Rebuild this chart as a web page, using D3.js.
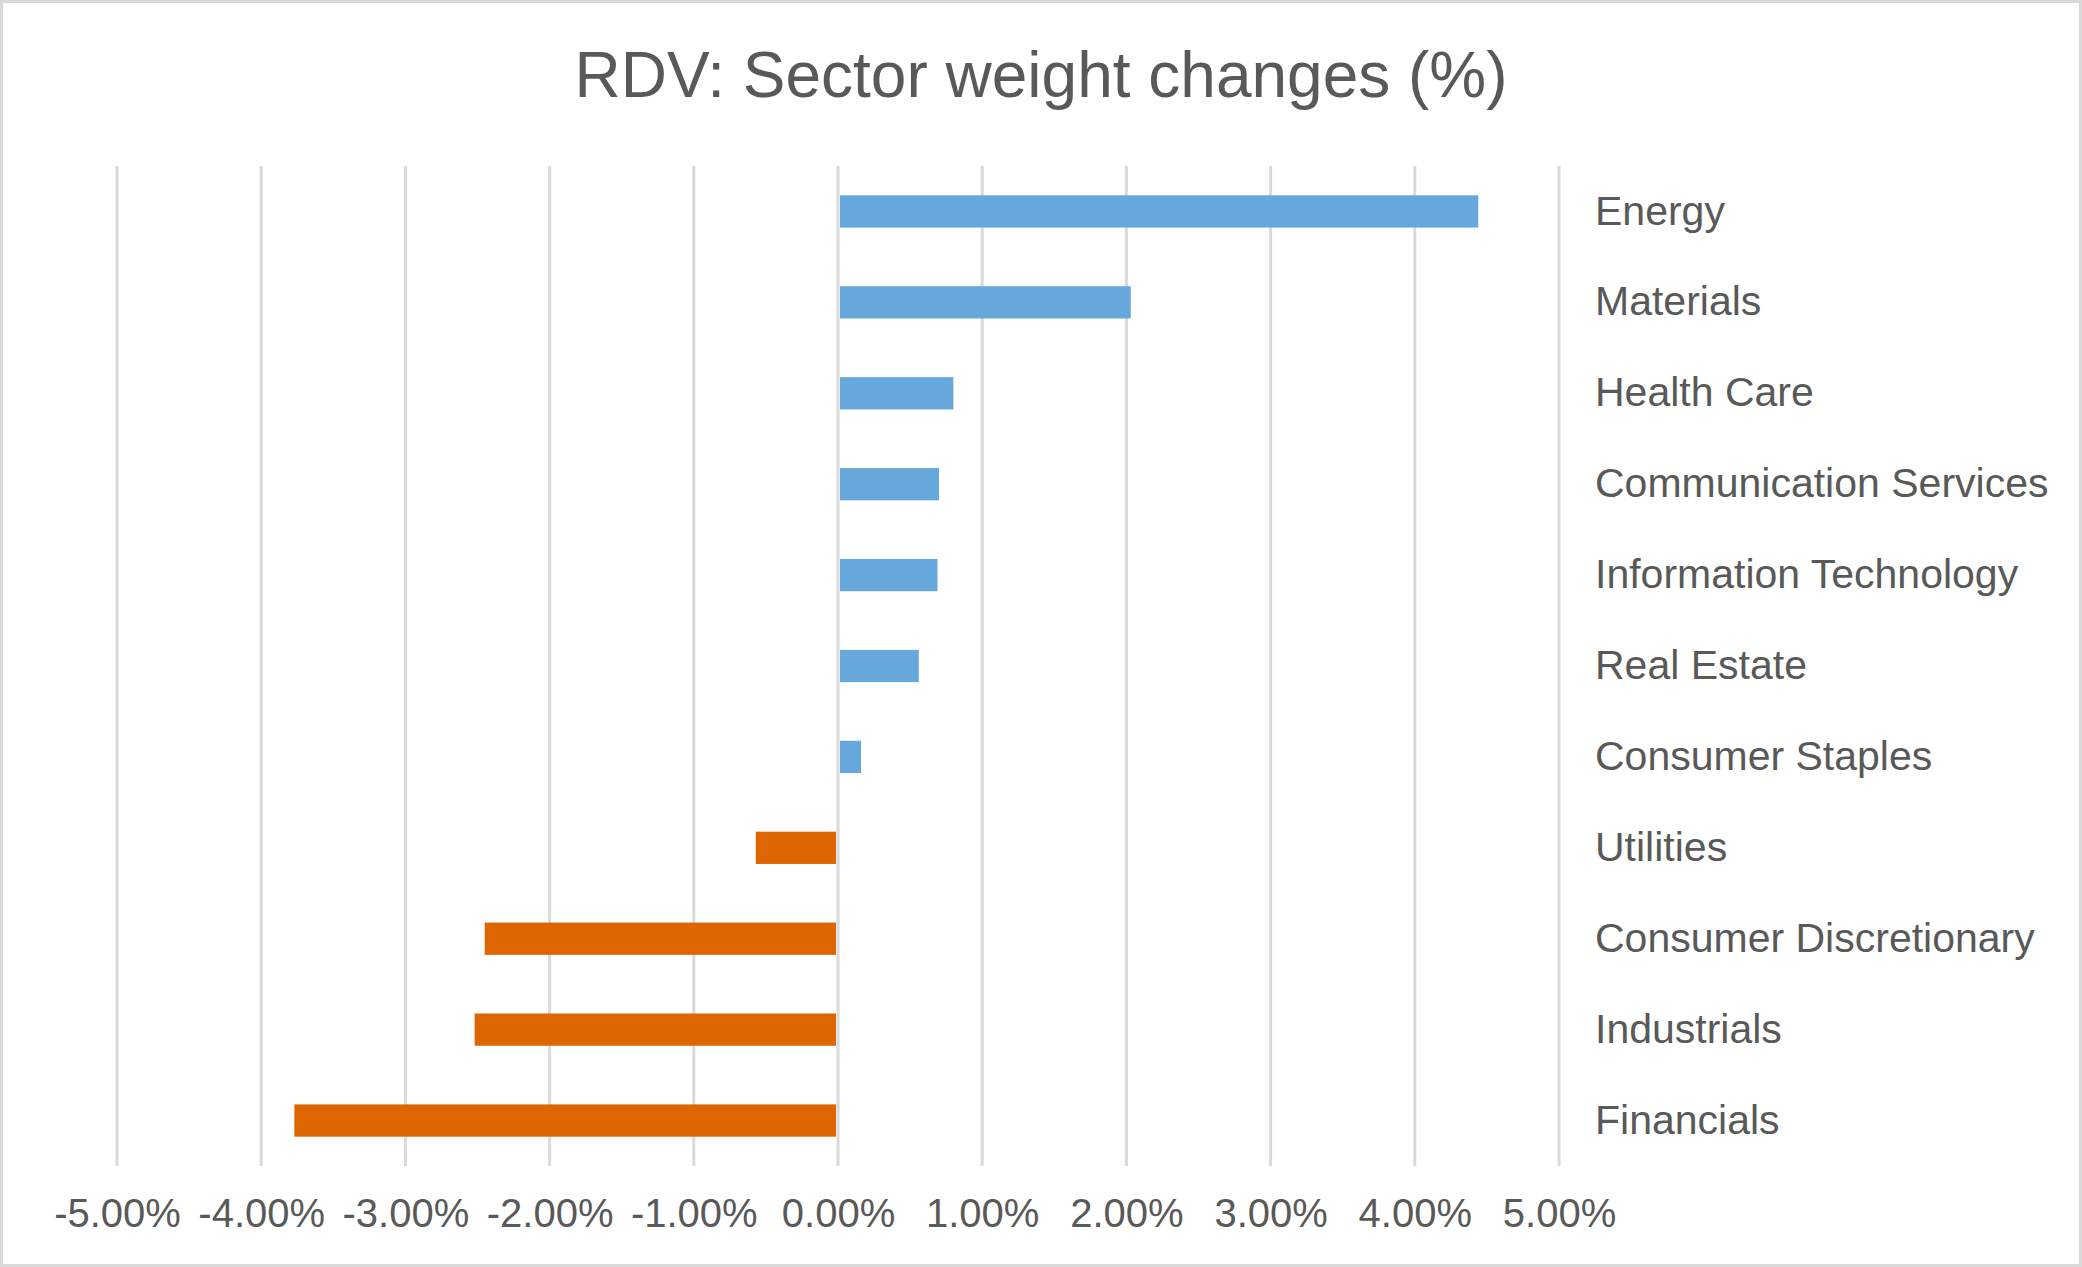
<!DOCTYPE html>
<html>
<head>
<meta charset="utf-8">
<script src="https://cdn.jsdelivr.net/npm/d3@7"></script>
<style>
  html, body { margin: 0; padding: 0; background: #fff; }
  svg { display: block; font-family: "Liberation Sans", Arial, sans-serif; }
</style>
</head>
<body>
<div id="chart"></div>
<script>
// Sector names, top to bottom
const sectors = [
    "Energy", "Materials", "Health Care", "Communication Services",
    "Information Technology", "Real Estate", "Consumer Staples",
    "Utilities", "Consumer Discretionary", "Industrials", "Financials"
];
// Weight change in percent
const changes = [4.44, 2.03, 0.80, 0.70, 0.69, 0.56, 0.16, -0.57, -2.45, -2.52, -3.77];
const ticks = [-5, -4, -3, -2, -1, 0, 1, 2, 3, 4, 5];

const width = 2082;
const height = 1267;
const textColor = "#595959";
const gridColor = "#d9d9d9";

const svg = d3.select("#chart")
    .append("svg")
    .attr("width", width)
    .attr("height", height);

// outer border
svg.append("rect")
    .attr("x", 1.5).attr("y", 1.5)
    .attr("width", width - 3).attr("height", height - 3)
    .attr("fill", "#fff")
    .attr("stroke", gridColor)
    .attr("stroke-width", 3);

const x = d3.scaleLinear()
    .domain([-5, 5])
    .range([117, 1559]);

const y = d3.scaleBand()
    .domain(sectors)
    .range([166, 1166])
    .paddingInner(0.645)
    .paddingOuter(0.3225);

// title
svg.append("text")
    .attr("x", width / 2)
    .attr("y", 97)
    .attr("text-anchor", "middle")
    .attr("fill", textColor)
    .style("font-size", "64px")
    .text("RDV: Sector weight changes (%)");

// gridlines
svg.append("g")
    .selectAll("line")
    .data(ticks)
    .join("line")
    .attr("x1", d => x(d)).attr("x2", d => x(d))
    .attr("y1", 166).attr("y2", 1166)
    .attr("stroke", gridColor)
    .attr("stroke-width", 3);

// bars
svg.append("g")
    .selectAll("rect")
    .data(sectors)
    .join("rect")
    .attr("x", (d, i) => Math.min(x(0), x(changes[i])) + (changes[i] > 0 ? 2 : 0))
    .attr("y", d => y(d))
    .attr("width", (d, i) => Math.abs(x(changes[i]) - x(0)) - 2)
    .attr("height", y.bandwidth())
    .attr("fill", (d, i) => changes[i] >= 0 ? "#66a8dc" : "#dd6600");

// x tick labels (plain hyphen for negatives, like the original)
const xAxis = d3.axisBottom(x)
    .tickValues(ticks)
    .tickSize(0)
    .tickPadding(0)
    .tickFormat(d => d.toFixed(2) + "%");

const xg = svg.append("g")
    .attr("transform", "translate(0,1227)")
    .call(xAxis);
xg.select(".domain").remove();
xg.selectAll("text")
    .attr("dy", 0)
    .attr("fill", textColor)
    .style("font-size", "40px")
    .style("font-family", "'Liberation Sans', Arial, sans-serif");

// category labels on the right
svg.append("g")
    .selectAll("text")
    .data(sectors)
    .join("text")
    .attr("x", 1595)
    .attr("y", d => y(d) + y.bandwidth() / 2)
    .attr("dy", "0.32em")
    .attr("fill", textColor)
    .style("font-size", "41px")
    .text(d => d);
</script>
</body>
</html>
